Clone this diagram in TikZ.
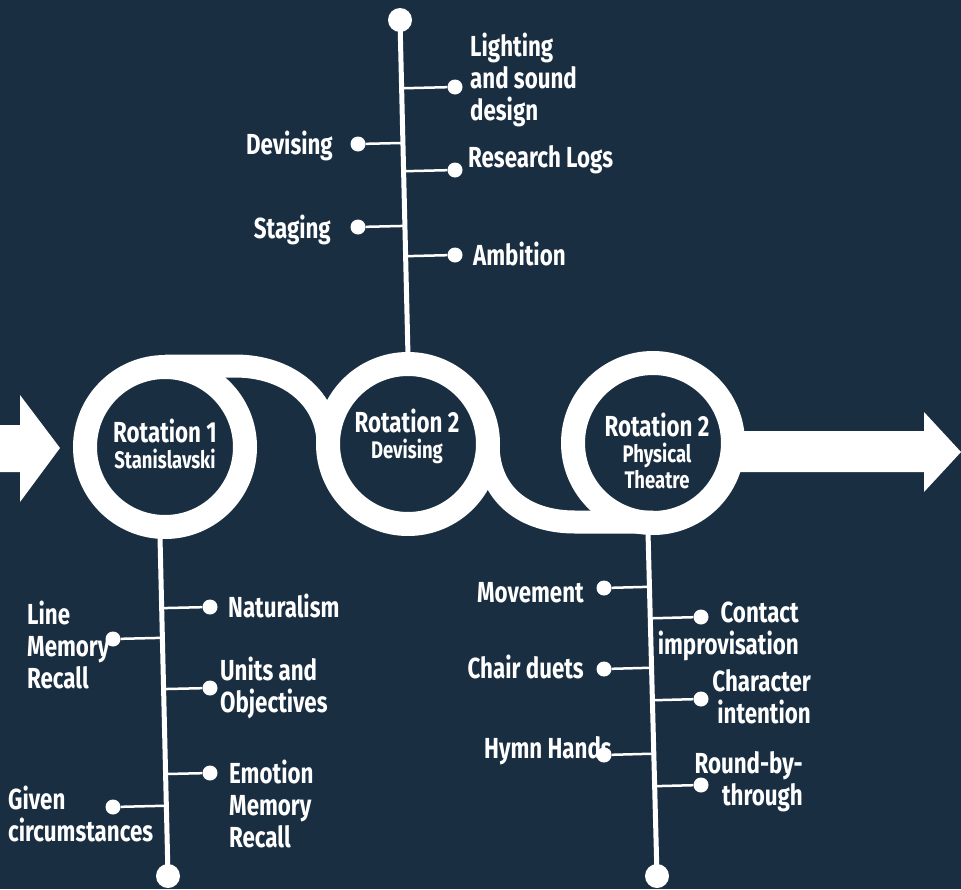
\documentclass[tikz,border=0pt]{standalone}
\usepackage{fontspec}
\setmainfont{Fira Sans}[FakeStretch=0.77]
\usetikzlibrary{calc}
\definecolor{navy}{HTML}{1A2E42}
\newcommand\rottitle[1]{{\fontsize{29}{26}\selectfont #1}}
\begin{document}
\begin{tikzpicture}[x=1pt,y=-1pt,
  ring/.style={circle,draw=white,line width=24pt,minimum size=160pt,inner sep=0pt},
  band/.style={draw=white,line width=23pt},
  spine/.style={draw=white,line width=5pt},
  twig/.style={draw=white,line width=2.5pt},
  dot/.style={circle,fill=white,inner sep=0pt,minimum size=15pt},
  bigdot/.style={circle,fill=white,inner sep=0pt,minimum size=24pt},
  lbl/.style={text=white,inner sep=0pt,font=\bfseries\fontsize{29}{32}\selectfont},
  ttl/.style={text=white,inner sep=0pt,align=center,anchor=base,font=\bfseries\fontsize{24}{26}\selectfont}]
\fill[navy] (0,0) rectangle (961,889);
\useasboundingbox (0,0) rectangle (961,889);
\fill[white] (0,425)--(20,425)--(20,395)--(60,448)--(20,502)--(20,472)--(0,472)--cycle;
\fill[white] (735,431)--(924,431)--(924,412)--(961,452)--(924,492)--(924,472)--(735,472)--cycle;
\node[ring] (r1) at (165,447) {};
\node[ring] (r2) at (408,444) {};
\node[ring] (r3) at (653,443) {};
\draw[band] ($(r1.center)+(0,-81)$) -- (235,366) .. controls (290,366) and (328,400) .. ($(r2.center)+(-80,0)$);
\draw[band] ($(r2.center)+(80,0)$) .. controls (488,495) and (525,522) .. (575,522) -- ($(r3.center)+(0,79)$);
\node[ttl] (t1) at (165,468) {\rottitle{Rotation 1}\\Stanislavski};
\node[ttl] (t2) at (407,458) {\rottitle{Rotation 2}\\Devising};
\node[ttl] (t3) at (657,488) {\rottitle{Rotation 2}\\Physical\\Theatre};

\coordinate (s2a) at (408,356);
\coordinate (s2b) at (400,20);
\draw[spine] (s2a) -- (s2b);
\node[bigdot] (top) at (s2b) {};
\node[dot] (lig) at (455,87) {};
\node[dot] (res) at (455,170) {};
\node[dot] (amb) at (455,255) {};
\node[dot] (dev) at (358,144) {};
\node[dot] (sta) at (358,227) {};
\foreach \d in {lig,res,amb,dev,sta}
  \draw[twig] (\d) -- ($(s2a)!(\d)!(s2b)$);
\node[lbl,anchor=base west,align=left] (ligl) at (470,120) {Lighting\\and sound\\design};
\node[lbl,anchor=base west] (resl) at (468,167) {Research Logs};
\node[lbl,anchor=base west] (ambl) at (473,265) {Ambition};
\node[lbl,anchor=base east] (devl) at (333,154) {Devising};
\node[lbl,anchor=base east] (stal) at (331,238) {Staging};

\coordinate (s1a) at (160,537);
\coordinate (s1b) at (168,876);
\draw[spine] (s1a) -- (s1b);
\node[bigdot] (bot1) at (s1b) {};
\node[dot] (nat) at (210,607) {};
\node[dot] (lmr) at (113,639) {};
\node[dot] (uno) at (210,688) {};
\node[dot] (emr) at (210,773) {};
\node[dot] (giv) at (113,807) {};
\foreach \d in {nat,lmr,uno,emr,giv}
  \draw[twig] (\d) -- ($(s1a)!(\d)!(s1b)$);
\node[lbl,anchor=base west] (natl) at (228,617) {Naturalism};
\node[lbl,anchor=base west,align=left] (lmrl) at (27,688) {Line\\Memory\\Recall};
\node[lbl,anchor=base west,align=left] (unol) at (220,712) {Units and\\Objectives};
\node[lbl,anchor=base west,align=left] (emrl) at (229,847) {Emotion\\Memory\\Recall};
\node[lbl,anchor=base west,align=left] (givl) at (8,841) {Given\\circumstances};

\coordinate (s3a) at (648,532);
\coordinate (s3b) at (657,876);
\draw[spine] (s3a) -- (s3b);
\node[bigdot] (bot3) at (s3b) {};
\node[dot] (mov) at (604,588) {};
\node[dot] (con) at (701,617) {};
\node[dot] (cha) at (604,669) {};
\node[dot] (chr) at (701,699) {};
\node[dot] (hym) at (604,755) {};
\node[dot] (rbt) at (701,785) {};
\foreach \d in {mov,con,cha,chr,hym,rbt}
  \draw[twig] (\d) -- ($(s3a)!(\d)!(s3b)$);
\node[lbl,anchor=base east] (movl) at (584,602) {Movement};
\node[lbl,anchor=base east,align=right] (conl) at (799,654) {Contact\\improvisation};
\node[lbl,anchor=base east] (chal) at (584,678) {Chair duets};
\node[lbl,anchor=base east,align=right] (chrl) at (811,723) {Character\\intention};
\node[lbl,anchor=base east] (hyml) at (612,758) {Hymn Hands};
\node[lbl,anchor=base east,align=right] (rbtl) at (803,805) {Round-by-\\through};
\end{tikzpicture}
\end{document}
